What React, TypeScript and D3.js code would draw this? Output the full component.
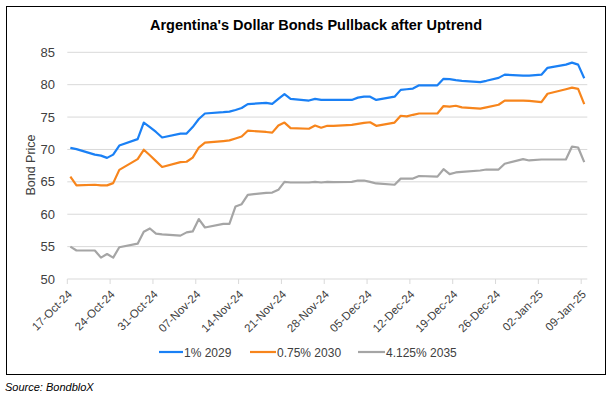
import React from "react";
import * as d3 from "d3";

const dates: string[] = [
  "2024-10-17","2024-10-18","2024-10-21","2024-10-22","2024-10-23","2024-10-24","2024-10-25",
  "2024-10-28","2024-10-29","2024-10-30","2024-10-31","2024-11-01",
  "2024-11-04","2024-11-05","2024-11-06","2024-11-07","2024-11-08",
  "2024-11-11","2024-11-12","2024-11-13","2024-11-14","2024-11-15",
  "2024-11-18","2024-11-19","2024-11-20","2024-11-21","2024-11-22",
  "2024-11-25","2024-11-26","2024-11-27","2024-11-28","2024-11-29",
  "2024-12-02","2024-12-03","2024-12-04","2024-12-05","2024-12-06",
  "2024-12-09","2024-12-10","2024-12-11","2024-12-12","2024-12-13",
  "2024-12-16","2024-12-17","2024-12-18","2024-12-19","2024-12-20",
  "2024-12-23","2024-12-24","2024-12-26","2024-12-27",
  "2024-12-30","2024-12-31","2025-01-02","2025-01-03",
  "2025-01-06","2025-01-07","2025-01-08","2025-01-09",
];

const bond2029: number[] = [
  70.25,70.05,69.2,69.05,68.7,69.2,70.6,
  71.6,74.15,73.45,72.7,71.85,
  72.45,72.45,73.45,74.7,75.55,
  75.75,75.85,76.1,76.4,77.0,
  77.2,77.05,77.8,78.55,77.8,
  77.55,77.8,77.65,77.65,77.65,
  77.65,78.0,78.15,78.15,77.65,
  78.15,79.2,79.3,79.4,79.9,
  79.9,80.9,80.85,80.7,80.6,
  80.4,80.6,81.05,81.55,
  81.4,81.4,81.55,82.6,
  83.1,83.4,83.1,81.0,
];

const bond2030: number[] = [
  65.8,64.45,64.55,64.45,64.45,64.8,66.85,
  68.5,69.95,69.1,68.2,67.3,
  68.05,68.1,68.75,70.3,71.05,
  71.3,71.4,71.7,72.0,72.9,
  72.7,72.6,73.7,74.15,73.3,
  73.2,73.7,73.35,73.65,73.65,
  73.8,73.95,74.1,74.2,73.65,
  74.15,75.2,75.1,75.35,75.55,
  75.55,76.7,76.6,76.75,76.5,
  76.3,76.5,76.9,77.55,
  77.55,77.5,77.3,78.6,
  79.3,79.55,79.35,77.0,
];

const bond2035: number[] = [
  55.0,54.4,54.4,53.3,53.85,53.3,54.9,
  55.45,57.3,57.8,57.0,56.9,
  56.7,57.2,57.35,59.25,57.95,
  58.5,58.5,61.2,61.55,63.0,
  63.3,63.35,63.77,65.0,64.9,
  64.9,65.0,64.9,65.0,64.95,
  65.0,65.2,65.2,65.0,64.75,
  64.55,65.5,65.5,65.5,65.9,
  65.8,66.95,66.2,66.45,66.55,
  66.75,66.9,66.9,67.8,
  68.5,68.3,68.45,68.45,
  68.45,70.45,70.3,68.05,
];

const seriesNames = ["1% 2029", "0.75% 2030", "4.125% 2035"];
const seriesColors = ["#1a80f5", "#f7851c", "#a5a5a5"];
const yTicks = [50, 55, 60, 65, 70, 75, 80, 85];
const xTickDates = [
  "2024-10-17","2024-10-24","2024-10-31","2024-11-07","2024-11-14","2024-11-21",
  "2024-11-28","2024-12-05","2024-12-12","2024-12-19","2024-12-26","2025-01-02","2025-01-09",
];

const W = 613, H = 397;
const FONT = "'Liberation Sans', Arial, sans-serif";

export default function App() {
  const parse = d3.timeParse("%Y-%m-%d");
  const fmt = d3.timeFormat("%d-%b-%y");
  const start = parse("2024-10-17")!;
  const end = parse("2025-01-10")!;
  const x = d3.scaleTime().domain([start, end]).range([67.3, 587.3]);
  const y = d3.scaleLinear().domain([50, 85]).range([279, 52.3]);
  const pts = dates.map((s) => d3.timeHour.offset(parse(s)!, 12));
  const all = [bond2029, bond2030, bond2035];
  const line = d3
    .line<number>()
    .x((_, i) => x(pts[i]))
    .y((v) => y(v));

  const legendItems = [
    { lx: 159, tx: 183 },
    { lx: 250, tx: 276 },
    { lx: 358, tx: 385 },
  ];

  return (
    <svg width={W} height={H} style={{ position: "absolute", left: 0, top: 0, background: "#fff" }} fontFamily={FONT}>
      <rect x={6.5} y={6.5} width={599} height={368} fill="#fff" stroke="#000" strokeWidth={1} />
      <text x={316} y={30} textAnchor="middle" fontSize={14.5} fontWeight="bold" fill="#000">
        Argentina's Dollar Bonds Pullback after Uptrend
      </text>
      {yTicks.map((t) => (
        <g key={t}>
          <line x1={67.3} x2={587.3} y1={y(t)} y2={y(t)} stroke="#d9d9d9" strokeWidth={1} />
          <text x={55} y={y(t) + 4.5} textAnchor="end" fontSize={13} fill="#404040">
            {t}
          </text>
        </g>
      ))}
      {xTickDates.map((s) => {
        const xx = x(parse(s)!);
        return (
          <g key={s}>
            <line x1={xx} x2={xx} y1={279} y2={284} stroke="#d9d9d9" />
            <text
              transform={`translate(${xx + 5.5},${295}) rotate(-45)`}
              textAnchor="end"
              fontSize={11.5}
              fill="#404040"
            >
              {fmt(parse(s)!)}
            </text>
          </g>
        );
      })}
      <text transform="translate(35,165) rotate(-90)" textAnchor="middle" fontSize={12.5} fill="#404040">
        Bond Price
      </text>
      {all.map((vals, i) => (
        <path key={i} d={line(vals) || ""} fill="none" stroke={seriesColors[i]} strokeWidth={2.2} strokeLinejoin="round" />
      ))}
      {seriesNames.map((n, i) => (
        <g key={n}>
          <line x1={legendItems[i].lx} x2={legendItems[i].tx} y1={352} y2={352} stroke={seriesColors[i]} strokeWidth={2.2} />
          <text x={legendItems[i].tx + 1} y={356.5} fontSize={12} fill="#404040">
            {n}
          </text>
        </g>
      ))}
      <text x={5} y={391} fontSize={11} fontStyle="italic" fill="#000">
        Source: BondbloX
      </text>
    </svg>
  );
}
